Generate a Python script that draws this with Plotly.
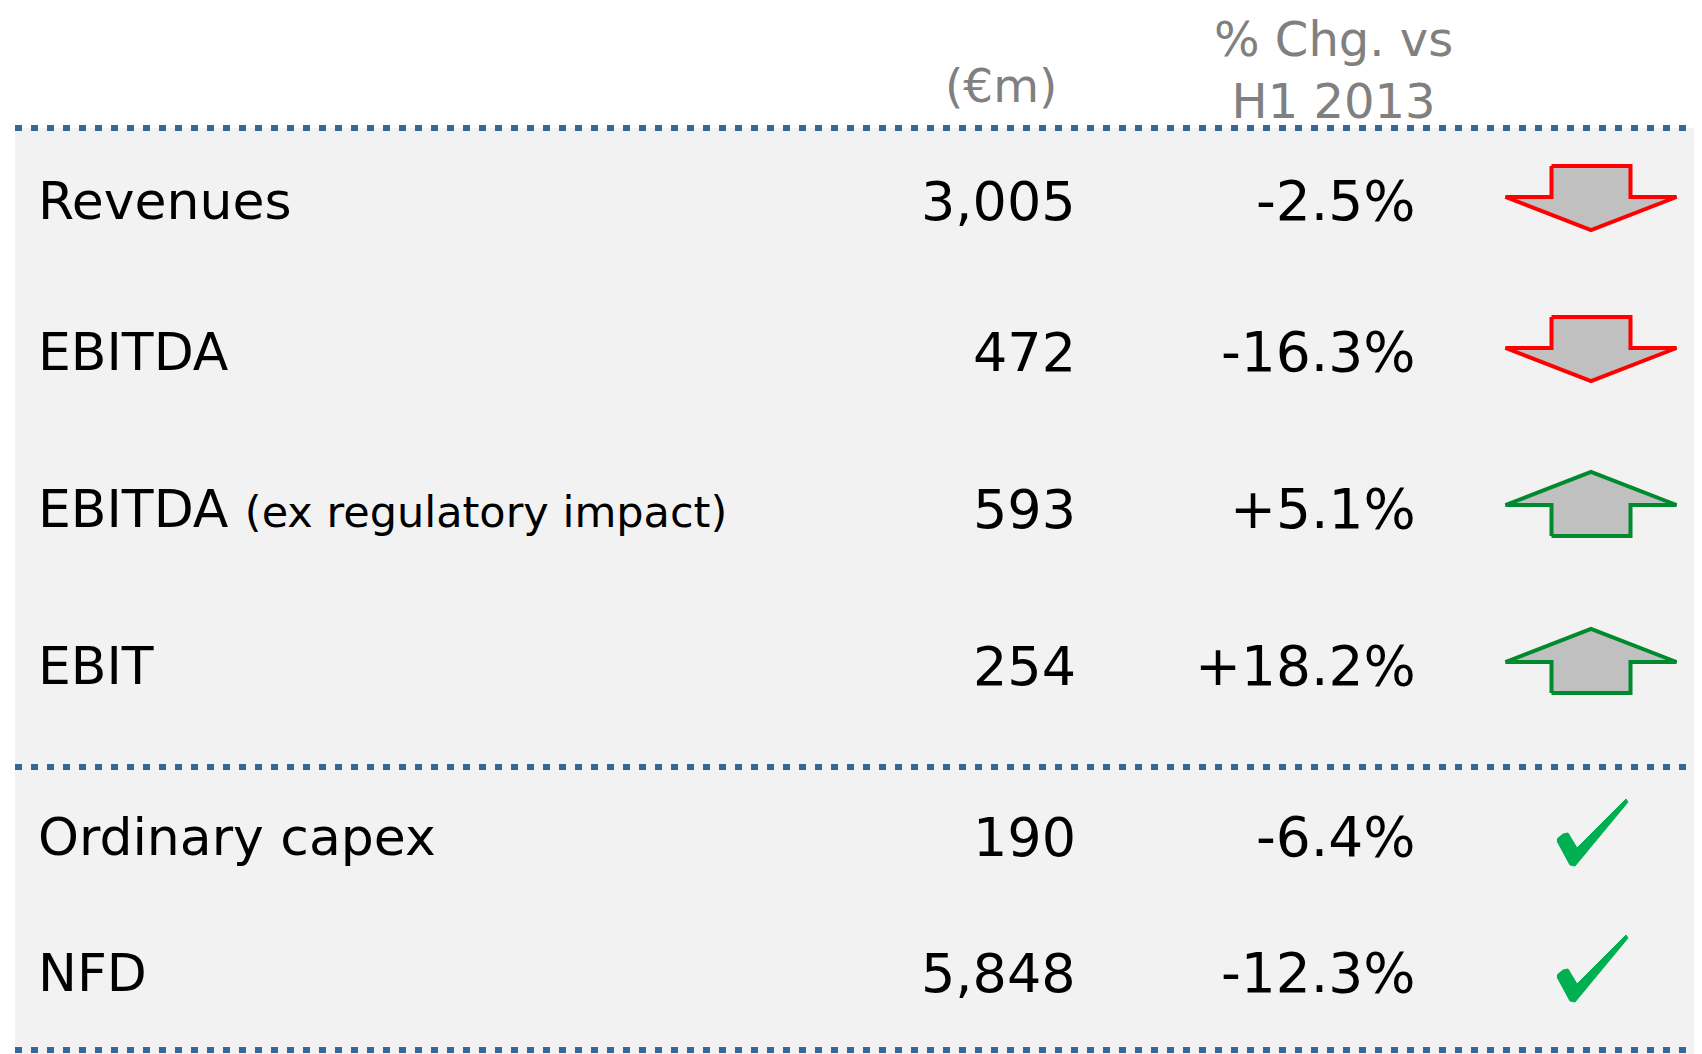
import plotly.graph_objects as go

# table data
labels = ["Revenues", "EBITDA", "EBITDA", "EBIT", "Ordinary capex", "NFD"]
label_notes = ["", "", "(ex regulatory impact)", "", "", ""]
values = ["3,005", "472", "593", "254", "190", "5,848"]
changes = ["-2.5%", "-16.3%", "+5.1%", "+18.2%", "-6.4%", "-12.3%"]
icons = ["down", "down", "up", "up", "check", "check"]

col_headers = ["(€m)", "% Chg. vs<br>H1 2013"]

# layout (pixels, page coords); the page body has an 8px margin
W, H = 1702, 1054
PAD = 8
row_y = [201, 352, 509, 666, 837, 973]
divider_y = [128, 767, 1050]
FONT = "DejaVu Sans"

fig = go.Figure()

# grey panel
fig.add_shape(type="rect", x0=15, x1=W, y0=divider_y[0], y1=H,
              fillcolor="#F2F2F2", line_width=0, layer="below")

for y in divider_y:
    fig.add_shape(type="line", x0=15, x1=W, y0=y, y1=y,
                  line=dict(color="#3A6599", width=6, dash="7px,9px"))


def arrow_shape(cx, cy, up):
    # outline of block arrow centred at (cx, cy)
    xs = [-39.5, 39.5, 39.5, 85.5, 0, -85.5, -39.5, -39.5]
    ys = [-32, -32, -1, -1, 32, -1, -1, -32]
    if up:
        ys = [-v for v in ys]
    return [cx + v for v in xs], [cy + v for v in ys]


def check_shape(cx, cy):
    xs = [-35, -29, -24, -15, 34, 36, -17, -22, -35]
    ys = [6, 1, 0, 15, -34, -31, 33, 32, 8]
    return [cx + v for v in xs], [cy + v for v in ys]


for i, lab in enumerate(labels):
    y = row_y[i]
    txt = lab
    if label_notes[i]:
        txt += " <span style='font-size:43px'>" + label_notes[i] + "</span>"
    fig.add_annotation(x=36, y=y, text=txt, xanchor="left", yanchor="middle",
                       showarrow=False, font=dict(family=FONT, size=52, color="#000000"))
    fig.add_annotation(x=1078, y=y, text=values[i], xanchor="right", yanchor="middle",
                       showarrow=False, font=dict(family=FONT, size=54, color="#000000"))
    fig.add_annotation(x=1418, y=y, text=changes[i], xanchor="right", yanchor="middle",
                       showarrow=False, font=dict(family=FONT, size=55, color="#000000"))

    if icons[i] in ("up", "down"):
        up = icons[i] == "up"
        ax, ay = arrow_shape(1591, y - 3 if not up else y - 5, up)
        fig.add_trace(go.Scatter(x=ax, y=ay, mode="lines", fill="toself",
                                 fillcolor="#C0C0C0",
                                 line=dict(color="#008A2E" if up else "#FF0000", width=4),
                                 hoverinfo="skip", showlegend=False))
    else:
        cx, cy = check_shape(1592, y - 4)
        fig.add_trace(go.Scatter(x=cx, y=cy, mode="lines", fill="toself",
                                 fillcolor="#00B050", line=dict(color="#00B050", width=1),
                                 hoverinfo="skip", showlegend=False))

# column headers
fig.add_annotation(x=1001, y=85, text=col_headers[0], xanchor="center", yanchor="middle",
                   showarrow=False, font=dict(family=FONT, size=47, color="#808080"))
fig.add_annotation(x=1333, y=70, text=col_headers[1], xanchor="center", yanchor="middle",
                   showarrow=False, align="center",
                   font=dict(family=FONT, size=48, color="#808080"))

fig.update_xaxes(range=[PAD, W], visible=False, fixedrange=True)
fig.update_yaxes(range=[H, PAD], visible=False, fixedrange=True)
fig.update_layout(width=W - PAD, height=H - PAD, margin=dict(l=0, r=0, t=0, b=0),
                  plot_bgcolor="#FFFFFF", paper_bgcolor="#FFFFFF", showlegend=False)

fig.write_html("out.html", config={"displayModeBar": False})
